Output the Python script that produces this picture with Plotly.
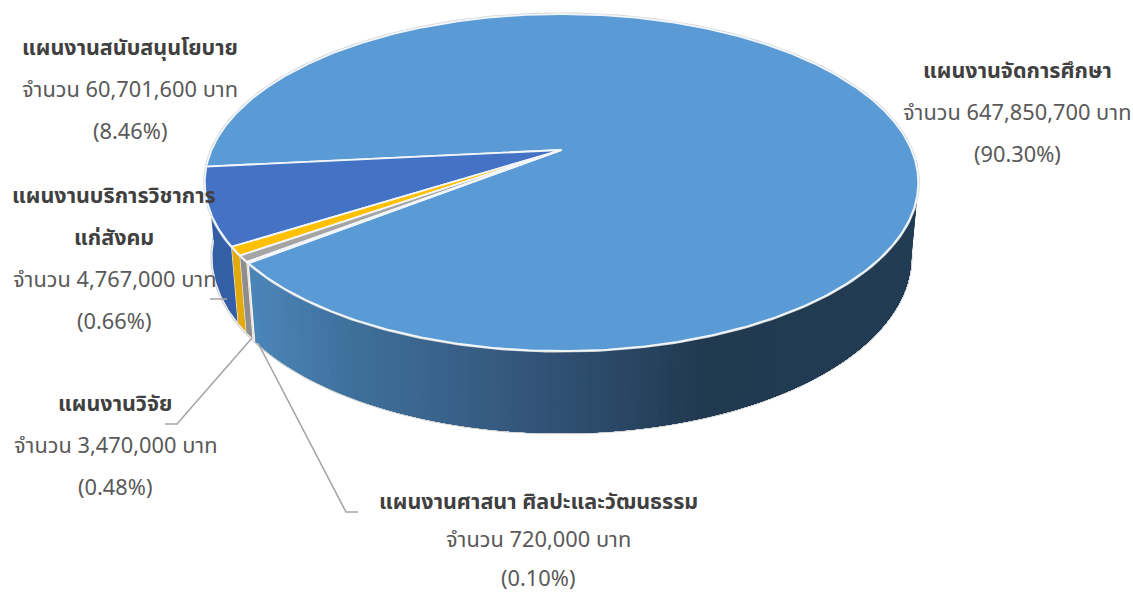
import numpy as np
import plotly.graph_objects as go

plan_names = ["แผนงานจัดการศึกษา", "แผนงานสนับสนุนโยบาย", "แผนงานบริการวิชาการ|แก่สังคม", "แผนงานวิจัย", "แผนงานศาสนา ศิลปะและวัฒนธรรม"]
amounts = [647850700, 60701600, 4767000, 3470000, 720000]
amount_text = ["647,850,700", "60,701,600", "4,767,000", "3,470,000", "720,000"]
percent_text = ["90.30", "8.46", "0.66", "0.48", "0.10"]
top_colors = ["#5B9BD5", "#4472C4", "#FFC000", "#A5A5A5", "#F4B183"]
wall_colors = [None, "#345FA6", "#E2AA0C", "#8E8E8E", "#F7D9C4"]
label_x = [1017, 130, 114, 115, 538]
label_y = [71, 48, 196, 404, 502]
label_gap = [42, 42, 42, 42, 38.5]

W, H = 1133, 595
START_DEG = 142
# the reference's perspective foreshortens each sector a little differently
SWEEP_SCALE = [1.0083, 0.873, 1.25, 1.25, 1.25]
K = 0.193
TOP = dict(xa=561.5, ya=150, A=350, B=162.2)
BOT = dict(xa=561.5, ya=223, A=343, B=169.5)
WALL_STOPS = [(250, "#4B86B9"), (350, "#3F709C"), (480, "#375C82"), (561, "#2F5072"), (700, "#213A50"), (915, "#233D55")]


def rim(deg, g):
    p = np.radians(deg)
    u, v = np.cos(p), np.sin(p)
    d = 1 - K * v
    return g["xa"] + g["A"] * u / d, g["ya"] + g["B"] * v / d


def wall_color(x):
    xs = [s[0] for s in WALL_STOPS]
    cs = [[int(s[1][i:i + 2], 16) for i in (1, 3, 5)] for s in WALL_STOPS]
    return "rgb(%d,%d,%d)" % tuple(np.interp(x, xs, [c[i] for c in cs]) for i in range(3))


sweeps = np.array(amounts) / sum(amounts) * 360 * np.array(SWEEP_SCALE)
edges = START_DEG - np.concatenate([[0], np.cumsum(sweeps)])

fig = go.Figure()


def poly(xs, ys, fill, line=None, width=1):
    fig.add_trace(go.Scatter(x=xs, y=ys, mode="lines", fill="toself", fillcolor=fill,
                             line=dict(color=line or fill, width=width), hoverinfo="skip", showlegend=False))


def wall_poly(a0, a1, n):
    seg = np.linspace(a0, a1, n)
    tx, ty = rim(seg, TOP)
    qx, qy = rim(seg, BOT)
    return list(tx) + list(qx[::-1]), list(ty) + list(qy[::-1]), (tx[0] + qx[0]) / 2


# outer silhouette of the base
ang = np.linspace(-8, 200, 240)
bx, by = rim(ang, BOT)
fig.add_trace(go.Scatter(x=bx, y=by, mode="lines", line=dict(color="#CFCFCF", width=3), hoverinfo="skip", showlegend=False))

# side walls: each band runs to the far end so no seams show between bands
for a0 in np.linspace(edges[0], -6, 110)[:-1]:
    xs, ys, xm = wall_poly(a0, -6, 60)
    fig.add_trace(go.Scatter(x=xs, y=ys, mode="lines", fill="toself", fillcolor=wall_color(xm),
                             line=dict(width=0), hoverinfo="skip", showlegend=False))
for i in range(1, 5):
    xs, ys, _ = wall_poly(edges[i] + 360, edges[i + 1] + 360, 30)
    poly(xs, ys, wall_colors[i], line="#F4F4F4", width=1.2)

# rim halo
ang = np.linspace(0, 360, 361)
hx, hy = rim(ang, TOP)
fig.add_trace(go.Scatter(x=hx, y=hy, mode="lines", line=dict(color="#D2D6DA", width=3.2), hoverinfo="skip", showlegend=False))

# top faces
for i in range(5):
    seg = np.linspace(edges[i], edges[i + 1], max(3, int(abs(edges[i + 1] - edges[i]) * 2)))
    sx, sy = rim(seg, TOP)
    poly([TOP["xa"]] + list(sx) + [TOP["xa"]], [TOP["ya"]] + list(sy) + [TOP["ya"]], top_colors[i], line="#F2F6FA", width=1.8)

# leader lines
leaders = [([210, 222, 227], [299, 299, 299]), ([165, 177, 252], [424, 424, 338]), ([358, 346, 258], [512, 512, 343])]
for lx, ly in leaders:
    fig.add_trace(go.Scatter(x=lx, y=ly, mode="lines", line=dict(color="#A6A6A6", width=1.6), hoverinfo="skip", showlegend=False))

FONT = "Noto Sans Thai, Noto Sans, DejaVu Sans, sans-serif"
for i in range(5):
    lines = [("<b>%s</b>" % t, "#404040", 21.5) for t in plan_names[i].split("|")]
    lines += [("จำนวน %s บาท" % amount_text[i], "#595959", 21.8), ("(%s%%)" % percent_text[i], "#595959", 21.8)]
    for j, (t, col, sz) in enumerate(lines):
        fig.add_annotation(x=label_x[i], y=label_y[i] + j * label_gap[i], text=t, showarrow=False,
                           font=dict(family=FONT, size=sz, color=col), xanchor="center", yanchor="middle")

fig.update_layout(width=W, height=H, margin=dict(l=0, r=0, t=0, b=0), paper_bgcolor="white", plot_bgcolor="white",
                  showlegend=False,
                  xaxis=dict(range=[0, W], visible=False, fixedrange=True),
                  yaxis=dict(range=[H, 0], visible=False, fixedrange=True))
fig.write_html("out.html", post_script="document.body.style.margin='0';", config=dict(displayModeBar=False))
